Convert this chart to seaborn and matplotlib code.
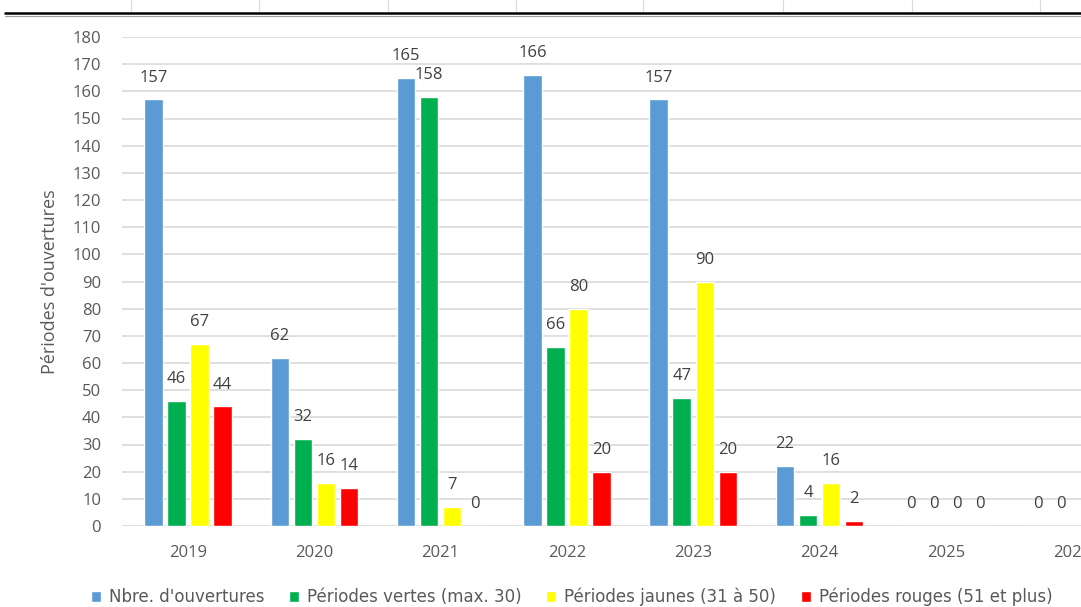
import pandas as pd
import matplotlib.pyplot as plt
import seaborn as sns
from matplotlib.lines import Line2D

# -------------------------------
# Data
years = ["2019", "2020", "2021", "2022", "2023", "2024", "2025", "2026"]
nb_ouvertures = [157, 62, 165, 166, 157, 22, 0, 0]
periodes_vertes = [46, 32, 158, 66, 47, 4, 0, 0]
periodes_jaunes = [67, 16, 7, 80, 90, 16, 0, 0]
periodes_rouges = [44, 14, 0, 20, 20, 2, 0, 0]

series_names = [
    "Nbre. d'ouvertures",
    "Périodes vertes (max. 30)",
    "Périodes jaunes (31 à 50)",
    "Périodes rouges (51 et plus)",
]
series_colors = ["#5B9BD5", "#00B050", "#FFFF00", "#FF0000"]

df = pd.DataFrame({
    "Année": years * 4,
    "Série": [n for n in series_names for _ in years],
    "Valeur": nb_ouvertures + periodes_vertes + periodes_jaunes + periodes_rouges,
})

# -------------------------------
sns.set_style("white")
plt.rcParams['font.family'] = ['Open Sans', 'DejaVu Sans']

fig = plt.figure(figsize=(10.81, 6.07), dpi=100)
ax = fig.add_axes([122 / 1081, 1 - 526 / 607, 1 - 122 / 1081, (526 - 37) / 607])

sns.barplot(data=df, x="Année", y="Valeur", hue="Série", palette=series_colors,
            saturation=1, width=0.73, gap=0.2, ax=ax, legend=True)

for cont in ax.containers:
    ax.bar_label(cont, padding=10, fontsize=12, color="#404040")

ax.set_ylim(0, 180)
ax.set_yticks(range(0, 181, 10))
ax.set_xlim(-0.5226, 7.07)
ax.yaxis.grid(True, color="#D9D9D9", linewidth=1.2)
ax.set_axisbelow(True)
for s in ax.spines.values():
    s.set_visible(False)
ax.tick_params(axis='both', length=0, labelsize=12, colors="#595959")
ax.tick_params(axis='x', pad=14)
ax.tick_params(axis='y', pad=15)
ax.set_xlabel("")
ax.set_ylabel("Périodes d'ouvertures", fontsize=13, color="#595959", labelpad=10)

# Legend along the bottom (cut by the screenshot edge)
handles, labels = ax.get_legend_handles_labels()
ax.legend_.remove()
fig.legend(handles, labels, loc="center left", bbox_to_anchor=(76 / 1081, 1 - 597 / 607),
           ncol=4, frameon=False, handlelength=0.6, handleheight=0.6,
           handletextpad=0.5, columnspacing=1.45, labelcolor="#595959",
           prop={'family': 'DejaVu Sans', 'size': 12})

# Spreadsheet border visible above the chart
fig.add_artist(Line2D([5 / 1081, 1], [1 - 13 / 607] * 2, color="black", lw=1.8))
fig.add_artist(Line2D([5 / 1081, 1], [1 - 15.5 / 607] * 2, color="#A0A0A0", lw=0.8))
for xp in [131, 259, 388, 516, 643, 783, 912, 1040]:
    fig.add_artist(Line2D([xp / 1081] * 2, [1, 1 - 11 / 607], color="#D9D9D9", lw=0.8))

plt.savefig("out.png", dpi=100)
